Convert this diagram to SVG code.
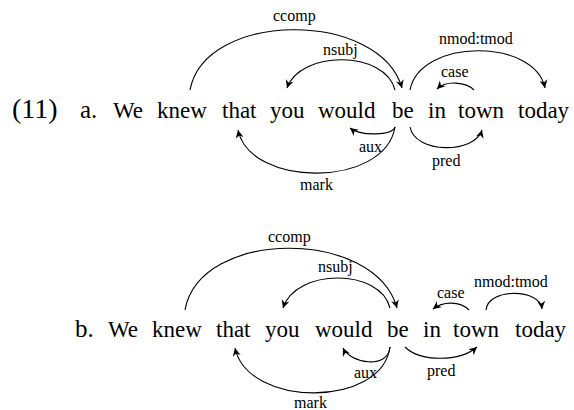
<svg xmlns="http://www.w3.org/2000/svg" width="574" height="410" viewBox="0 0 574 410">
<style>
.w{font-family:"Liberation Serif","Times New Roman",serif;font-size:23px;fill:#000}
.big{font-family:"Liberation Serif","Times New Roman",serif;font-size:28px;fill:#000}
.lab{font-family:"Liberation Serif","Times New Roman",serif;font-size:16px;fill:#000}
.arc{fill:none;stroke:#000;stroke-width:1.1;marker-end:url(#ah)}
</style>
<defs>
<marker id="ah" viewBox="-9 -5 10 10" refX="0" refY="0" markerWidth="10" markerHeight="10" markerUnits="userSpaceOnUse" orient="auto">
<path d="M0,0 L-8,-4 L-5.5,0 L-8,4 Z" fill="#000"/>
</marker>
</defs>
<rect width="574" height="410" fill="#fff"/>
<g id="labels-ex">
<text class="big" x="12" y="118">(11)</text>
<text class="big" x="80" y="118" style="font-size:25px">a.</text>
<text class="big" x="75" y="337" style="font-size:25px">b.</text>
</g>
<g id="a-We"><text class="w" x="113" y="118">We</text></g>
<g id="a-knew"><text class="w" x="157" y="118">knew</text></g>
<g id="a-that"><text class="w" x="222" y="118">that</text></g>
<g id="a-you"><text class="w" x="270" y="118">you</text></g>
<g id="a-would"><text class="w" x="318" y="118">would</text></g>
<g id="a-be"><text class="w" x="392" y="118">be</text></g>
<g id="a-in"><text class="w" x="428" y="118">in</text></g>
<g id="a-town"><text class="w" x="458" y="118">town</text></g>
<g id="a-today"><text class="w" x="518" y="118">today</text></g>
<g id="b-We"><text class="w" x="108" y="337">We</text></g>
<g id="b-knew"><text class="w" x="152" y="337">knew</text></g>
<g id="b-that"><text class="w" x="216" y="337">that</text></g>
<g id="b-you"><text class="w" x="265" y="337">you</text></g>
<g id="b-would"><text class="w" x="315" y="337">would</text></g>
<g id="b-be"><text class="w" x="387" y="337">be</text></g>
<g id="b-in"><text class="w" x="423" y="337">in</text></g>
<g id="b-town"><text class="w" x="453" y="337">town</text></g>
<g id="b-today"><text class="w" x="515" y="337">today</text></g>
<g id="connectors">
<path class="arc" d="M190,90 C205,10 380,10 402,88"/>
<text class="lab" x="273" y="21">ccomp</text>
<path class="arc" d="M395,90 C385,50 300,50 287,88"/>
<text class="lab" x="323" y="55">nsubj</text>
<path class="arc" d="M410,90 C420,38 535,38 545,88"/>
<text class="lab" x="439" y="44">nmod:tmod</text>
<path class="arc" d="M474,90 C466,82 446,80 437,89"/>
<text class="lab" x="441" y="77">case</text>
<path class="arc" d="M395,127 C385,188 250,188 238,130"/>
<text class="lab" x="300" y="190">mark</text>
<path class="arc" d="M395,127 C392,136 360,136 350,128"/>
<text class="lab" x="359" y="152">aux</text>
<path class="arc" d="M410,127 C415,154 475,154 482,130"/>
<text class="lab" x="432" y="166">pred</text>
<path class="arc" d="M185,310 C200,228 375,228 397,308"/>
<text class="lab" x="268" y="242">ccomp</text>
<path class="arc" d="M390,308 C380,268 296,268 283,308"/>
<text class="lab" x="318" y="272">nsubj</text>
<path class="arc" d="M469,310 C460,301 443,301 433,309"/>
<text class="lab" x="437" y="298">case</text>
<path class="arc" d="M486,310 C488,288 540,288 542,309"/>
<text class="lab" x="474" y="287">nmod:tmod</text>
<path class="arc" d="M390,347 C388,370 350,363 343,348"/>
<text class="lab" x="354" y="378">aux</text>
<path class="arc" d="M390,347 C382,408 248,408 235,348"/>
<text class="lab" x="294" y="408">mark</text>
<path class="arc" d="M405,347 C420,362 460,362 477,347"/>
<text class="lab" x="427" y="376">pred</text>
</g>
</svg>
